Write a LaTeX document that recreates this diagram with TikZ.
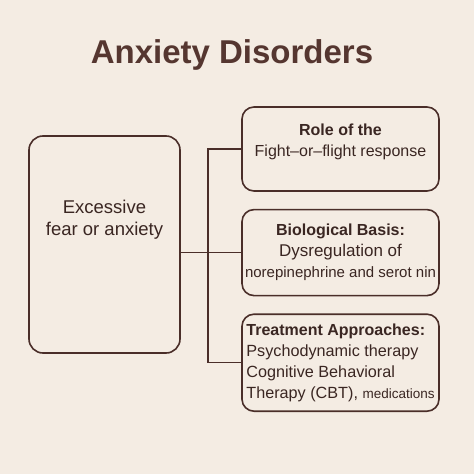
\documentclass[tikz,border=0pt]{standalone}
\usepackage{fontspec}
\setmainfont{Liberation Sans}
\usetikzlibrary{positioning}
\definecolor{adpaper}{HTML}{F4ECE3}
\definecolor{adline}{HTML}{4A2E29}
\definecolor{adtext}{HTML}{3A2622}
\definecolor{adtitle}{HTML}{553630}
\newcommand{\hd}[1]{{\bfseries\fontsize{16pt}{21pt}\selectfont #1}}

\begin{document}
\begin{tikzpicture}[
  x=1pt, y=-1pt,
  node distance=17pt,
  card/.style={draw=adline, line width=1.6pt, rounded corners=12pt, fill=adpaper, minimum width=197pt, align=center, inner sep=3pt, font=\fontsize{17pt}{21pt}\selectfont\color{adtext}},
  link/.style={draw=adline, line width=1.4pt}
]
\fill[adpaper] (0,0) rectangle (474,474);
\useasboundingbox (0,0) rectangle (474,474);
\node[anchor=base, font=\bfseries\fontsize{33pt}{36pt}\selectfont, text=adtitle] (title) at (232,63) {Anxiety Disorders};
\node[card, minimum width=151pt, minimum height=217pt, rounded corners=14pt, text depth=53pt, font=\fontsize{18.5pt}{22pt}\selectfont\color{adtext}] (ex) at (104.5,244.5) {Excessive\\fear or anxiety};
\node[card, minimum height=84pt, text depth=17pt] (r1) at (340.5,149) {\hd{Role of the}\\{\fontsize{16pt}{21pt}\selectfont Fight–or–flight response}};
\node[card, minimum height=86pt, below=of r1] (r2) {\hd{Biological Basis:}\\Dysregulation of\\{\fontsize{15pt}{21pt}\selectfont norepinephrine and serot nin}};
\node[card, minimum height=97pt, align=left, font=\fontsize{16.2pt}{21pt}\selectfont\color{adtext}, below=of r2] (r3) {\hd{Treatment Approaches:}\\Psychodynamic therapy\\Cognitive Behavioral\\Therapy (CBT), {\fontsize{13.5pt}{21pt}\selectfont medications}};
\coordinate (trunk) at (208,249);
\draw[link] (ex.east |- r2.west) -- (r2.west);
\draw[link] (r1.west) -| (trunk |- r3.west) -- (r3.west);
\end{tikzpicture}
\end{document}
